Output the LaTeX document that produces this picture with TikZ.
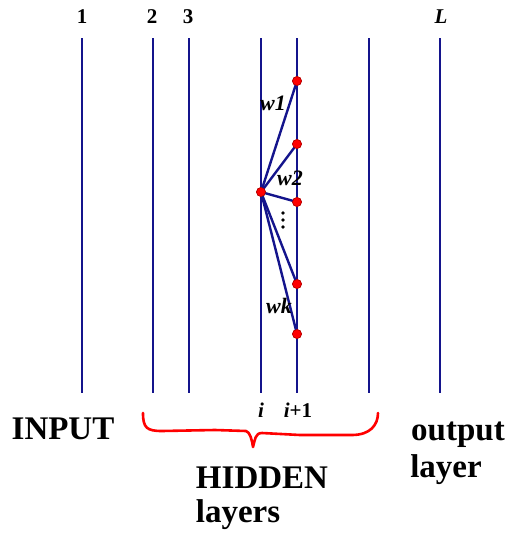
\documentclass[tikz,border=0pt]{standalone}
\usepackage{fontspec}
\setmainfont{Liberation Serif}
\begin{document}
\begin{tikzpicture}[x=1pt,y=-1pt,
  layer/.style={draw=navy,line width=2.6pt},
  wline/.style={draw=navy,line width=2.4pt},
  dot/.style={circle,fill=red,draw=red!70!black,line width=0.6pt,inner sep=0pt,minimum size=9pt},
  big/.style={font=\fontsize{33}{36}\selectfont\bfseries,text=black},
  num/.style={font=\fontsize{21}{24}\selectfont\bfseries,text=black},
  wlab/.style={font=\fontsize{22}{24}\selectfont\bfseries\itshape,text=black}]
\definecolor{navy}{RGB}{20,20,140}
\useasboundingbox (0,0) rectangle (511,533);
% layers
\foreach \n/\x in {l1/82,l2/153,l3/189,li/261,lj/297,l6/369,lL/440}{
  \coordinate (\n t) at (\x,38);
  \coordinate (\n b) at (\x,393);
  \draw[layer] (\n t) -- (\n b);
}
% top labels
\node[num] (n1) at (82,17) {1};
\node[num] (n2) at (152,17) {2};
\node[num] (n3) at (188,17) {3};
\node[num,font=\fontsize{21}{24}\selectfont\bfseries\itshape] (nL) at (441,17) {L};
% nodes
\node[dot] (src) at (261,192) {};
\node[dot] (d1) at (297,81) {};
\node[dot] (d2) at (297,144) {};
\node[dot] (d3) at (297,202) {};
\node[dot] (d4) at (297,284) {};
\node[dot] (d5) at (297,334) {};
\foreach \d in {d1,d2,d3,d4,d5}{\draw[wline] (src.center) -- (\d.center);}
\foreach \d in {src,d1,d2,d3,d4,d5}{\node[dot] at (\d) {};}
% weight labels
\node[wlab] (w1) at (273,103) {w1};
\node[wlab] (w2) at (290,178) {w2};
\node[wlab] (wk) at (279,306) {wk};
\foreach \y [count=\k] in {213,220,227}{\fill (283,\y) circle (1.9pt);}
% bottom labels
\node[wlab,font=\fontsize{21}{24}\selectfont\bfseries] (ii) at (261,410) {\textit{i}};
\node[wlab,font=\fontsize{21}{24}\selectfont\bfseries] (ij) at (298,410) {\textit{i}+1};
\node[big] (input) at (63,429) {INPUT};
\node[big] (hidden) at (262,478) {HIDDEN};
\node[big] (hl) at (238,515) {layers};
\node[big] (out) at (458,435) {output};
\node[big] (ol) at (446,470) {layer};
% brace
\draw[red,line width=2.6pt,line cap=round,line join=round]
  (143,413) .. controls (143,428) and (147,431) .. (162,431)
  -- (215,430) -- (246,431) .. controls (250,432) and (252,440) .. (253,447)
  .. controls (255,440) and (255,433) .. (262,433)
  -- (300,435) -- (352,435) .. controls (370,435) and (378,425) .. (378,413);
\end{tikzpicture}
\end{document}
